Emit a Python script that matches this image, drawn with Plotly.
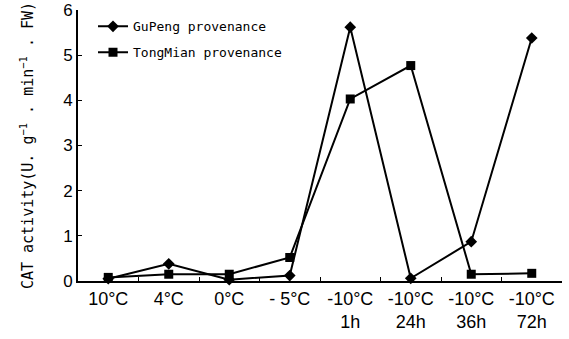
import plotly.graph_objects as go

categories = ["10°C", "4°C", "0°C", "- 5°C", "-10°C<br>1h", "-10°C<br>24h", "-10°C<br>36h", "-10°C<br>72h"]
gupeng = [0.05, 0.38, 0.03, 0.12, 5.62, 0.06, 0.87, 5.38]
tongmian = [0.08, 0.15, 0.15, 0.52, 4.03, 4.77, 0.15, 0.17]
y_ticks = [0, 1, 2, 3, 4, 5, 6]

fig = go.Figure()
fig.add_trace(go.Scatter(
    x=categories, y=gupeng, name="GuPeng provenance", mode="lines+markers", legendgroup="a",
    line=dict(color="black", width=2), marker=dict(symbol="diamond", size=9, color="black"),
    cliponaxis=False))
fig.add_trace(go.Scatter(
    x=categories, y=tongmian, name="TongMian provenance", mode="lines+markers", legendgroup="b",
    line=dict(color="black", width=2), marker=dict(symbol="square", size=9, color="black"),
    cliponaxis=False))

fig.update_layout(
    width=569, height=339,
    margin=dict(l=78, r=7, t=10, b=58),
    plot_bgcolor="white", paper_bgcolor="white",
    showlegend=True,
    legend=dict(x=0.031, y=0.995, xanchor="left", yanchor="top", bgcolor="rgba(0,0,0,0)",
                font=dict(family="DejaVu Sans Mono", size=13, color="black"),
                tracegroupgap=6, itemwidth=30),
    font=dict(family="Liberation Sans", color="black"),
)
fig.update_xaxes(
    type="category", range=[-0.5, 7.5], showline=True, linecolor="black", linewidth=2,
    ticks="inside", ticklen=4, tickcolor="black", tickson="boundaries", automargin=False,
    tickfont=dict(family="Liberation Sans", size=18, color="black"),
    showgrid=False, zeroline=False)
fig.update_yaxes(
    range=[0, 6], tickvals=y_ticks, showline=True, linecolor="black", linewidth=2,
    ticks="inside", ticklen=4, tickcolor="black", automargin=False,
    tickfont=dict(family="Liberation Sans", size=17, color="black"),
    showgrid=False, zeroline=False,
    title=dict(text="CAT activity(U. g<sup>−1</sup> . min<sup>−1</sup> . FW)",
               font=dict(family="DejaVu Sans Mono", size=15, color="black"), standoff=26))

fig.write_html("out.html", config={"displayModeBar": False},
               post_script="document.body.style.margin='0';")
